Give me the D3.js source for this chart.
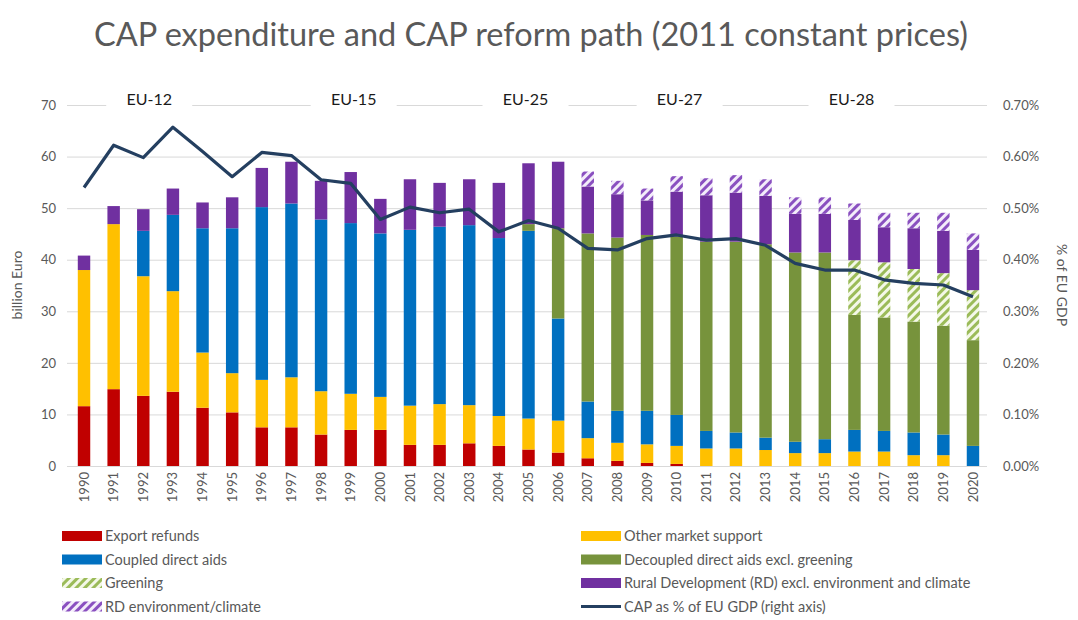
<!DOCTYPE html>
<html>
<head>
<meta charset="utf-8">
<script src="https://cdn.jsdelivr.net/npm/d3@7"></script>
<style>
  body { margin: 0; background: #fff; }
  svg { font-family: Lato, "Open Sans", sans-serif; }
</style>
</head>
<body>
<svg width="1078" height="620"></svg>
<script>
const years = d3.range(1990, 2021).map(String);

// billion euro, 2011 constant prices
const exportRefunds = [11.6, 14.9, 13.6, 14.4, 11.3, 10.4, 7.5, 7.5, 6.1, 7.0, 7.0, 4.1, 4.1, 4.4, 3.9, 3.2, 2.6, 1.5, 1.0, 0.6, 0.4, 0, 0, 0, 0, 0, 0, 0, 0, 0, 0];
const otherMarket = [26.4, 32.0, 23.2, 19.5, 10.7, 7.6, 9.2, 9.7, 8.4, 7.0, 6.4, 7.6, 7.9, 7.4, 5.8, 6.0, 6.2, 3.9, 3.5, 3.6, 3.5, 3.4, 3.4, 3.1, 2.5, 2.5, 2.8, 2.8, 2.1, 2.1, 0];
const coupled = [0, 0, 8.8, 14.8, 24.1, 28.1, 33.5, 33.7, 33.3, 33.1, 31.7, 34.1, 34.4, 34.9, 34.5, 36.4, 19.8, 7.1, 6.2, 6.5, 6.0, 3.4, 3.1, 2.4, 2.2, 2.7, 4.2, 4.0, 4.4, 4.0, 3.9];
const decoupled = [0, 0, 0, 0, 0, 0, 0, 0, 0, 0, 0, 0, 0, 0, 0, 1.3, 17.5, 32.6, 33.6, 34.1, 34.6, 36.7, 37.0, 37.5, 36.7, 36.2, 22.3, 22.0, 21.5, 21.1, 20.5];
const greening = [0, 0, 0, 0, 0, 0, 0, 0, 0, 0, 0, 0, 0, 0, 0, 0, 0, 0, 0, 0, 0, 0, 0, 0, 0, 0, 10.6, 10.7, 10.2, 10.2, 9.7];
const ruralDev = [2.8, 3.5, 4.2, 5.1, 5.0, 6.0, 7.6, 8.1, 7.5, 9.9, 6.7, 9.8, 8.5, 8.9, 10.7, 11.8, 12.9, 9.1, 8.4, 6.7, 8.7, 9.0, 9.5, 9.4, 7.5, 7.5, 7.8, 6.8, 7.9, 8.2, 7.8];
const rdEnv = [0, 0, 0, 0, 0, 0, 0, 0, 0, 0, 0, 0, 0, 0, 0, 0, 0, 2.9, 2.6, 2.3, 3.0, 3.3, 3.4, 3.2, 3.2, 3.2, 3.2, 2.8, 3.0, 3.5, 3.2];

// CAP as % of EU GDP (percent)
const gdpShare = [0.540, 0.622, 0.598, 0.657, 0.610, 0.561, 0.608, 0.602, 0.555, 0.548, 0.478, 0.502, 0.491, 0.498, 0.454, 0.476, 0.461, 0.422, 0.419, 0.441, 0.448, 0.438, 0.441, 0.428, 0.393, 0.380, 0.380, 0.361, 0.354, 0.351, 0.328];

const leftTicks = [0, 10, 20, 30, 40, 50, 60, 70];
const rightTicks = [0, 0.1, 0.2, 0.3, 0.4, 0.5, 0.6, 0.7];

const enlargements = ['EU-12', 'EU-15', 'EU-25', 'EU-27', 'EU-28'];
const enlargementAt = [1992.2, 1999.1, 2004.9, 2010.1, 2015.9];

const seriesNames = ['Export refunds', 'Other market support', 'Coupled direct aids', 'Decoupled direct aids excl. greening',
  'Greening', 'Rural Development (RD) excl. environment and climate', 'RD environment/climate'];

const svg = d3.select('svg');
const W = +svg.attr('width');

// hatch patterns
const defs = svg.append('defs');
function hatch(id, color, bg) {
  const p = defs.append('pattern')
    .attr('id', id)
    .attr('patternUnits', 'userSpaceOnUse')
    .attr('width', 6).attr('height', 6)
    .attr('patternTransform', 'rotate(45)');
  p.append('rect').attr('width', 6).attr('height', 6).attr('fill', bg);
  p.append('rect').attr('width', 3).attr('height', 6).attr('fill', color);
}
hatch('hGreen', '#9bbb59', '#f4f8e8');
hatch('hPurple', '#8a50c0', '#f3ecfa');

const fills = ['#c00000', '#ffc000', '#0070c0', '#77933c', 'url(#hGreen)', '#7030a0', 'url(#hPurple)'];

const table = years.map((y, i) => ({
  year: y,
  s0: exportRefunds[i], s1: otherMarket[i], s2: coupled[i], s3: decoupled[i],
  s4: greening[i], s5: ruralDev[i], s6: rdEnv[i]
}));
const keys = ['s0', 's1', 's2', 's3', 's4', 's5', 's6'];
const stacked = d3.stack().keys(keys)(table);

const x = d3.scaleBand().domain(years).range([69.2, 987.8]).paddingInner(0.58).paddingOuter(0.29);
const y = d3.scaleLinear().domain([0, 70]).range([466, 105]);
const yR = d3.scaleLinear().domain([0, 0.7]).range([466, 105]);   // in percent
const xYear = d3.scaleLinear().domain([1990, 2020]).range([x('1990') + x.bandwidth() / 2, x('2020') + x.bandwidth() / 2]);

// title
svg.append('text')
  .attr('x', W / 2 - 8).attr('y', 46)
  .attr('text-anchor', 'middle')
  .attr('font-size', 32.5)
  .attr('fill', '#595959')
  .text('CAP expenditure and CAP reform path (2011 constant prices)');

// gridlines
svg.append('g')
  .attr('transform', 'translate(67,0)')
  .call(d3.axisLeft(y).tickValues(leftTicks).tickSize(-920).tickFormat(''))
  .call(g => g.select('.domain').remove())
  .call(g => g.selectAll('line').attr('stroke', '#d9d9d9'));

// left axis labels
svg.append('g')
  .attr('transform', 'translate(60,0)')
  .call(d3.axisLeft(y).tickValues(leftTicks).tickSize(0).tickPadding(4))
  .call(g => g.select('.domain').remove())
  .call(g => g.selectAll('text').attr('font-size', 13).attr('fill', '#595959').attr('font-family', 'Lato'));

// right axis labels
svg.append('g')
  .attr('transform', 'translate(1000,0)')
  .call(d3.axisRight(yR).tickValues(rightTicks).tickSize(0).tickPadding(3).tickFormat(d => d.toFixed(2) + '%'))
  .call(g => g.select('.domain').remove())
  .call(g => g.selectAll('text').attr('font-size', 13).attr('fill', '#595959').attr('font-family', 'Lato'));

// axis titles
svg.append('text')
  .attr('transform', 'translate(22,285) rotate(-90)')
  .attr('text-anchor', 'middle')
  .attr('font-size', 14).attr('fill', '#595959')
  .text('billion Euro');
svg.append('text')
  .attr('transform', 'translate(1057,285) rotate(90)')
  .attr('text-anchor', 'middle')
  .attr('font-size', 14).attr('fill', '#595959')
  .text('% of EU GDP');

// bars
svg.append('g').selectAll('g')
  .data(stacked)
  .join('g')
  .attr('fill', (d, i) => fills[i])
  .selectAll('rect')
  .data(d => d)
  .join('rect')
  .attr('x', d => x(d.data.year))
  .attr('width', x.bandwidth())
  .attr('y', d => y(d[1]))
  .attr('height', d => y(d[0]) - y(d[1]));

// x axis labels
svg.append('g')
  .attr('transform', 'translate(0,468)')
  .call(d3.axisBottom(x).tickSize(0).tickPadding(0))
  .call(g => g.select('.domain').remove())
  .call(g => g.selectAll('text')
    .attr('font-size', 13).attr('fill', '#595959').attr('font-family', 'Lato')
    .attr('transform', 'rotate(-90)')
    .attr('text-anchor', 'end')
    .attr('x', -4).attr('y', 0).attr('dy', '0.35em'));

// GDP share line
svg.append('path')
  .datum(gdpShare)
  .attr('fill', 'none')
  .attr('stroke', '#243f60')
  .attr('stroke-width', 3.2)
  .attr('stroke-linejoin', 'round')
  .attr('d', d3.line()
    .x((d, i) => x(years[i]) + x.bandwidth() / 2)
    .y(d => yR(d)));

// enlargement labels on the top gridline
const lab = svg.append('g').selectAll('g')
  .data(enlargements)
  .join('g')
  .attr('transform', (d, i) => `translate(${xYear(enlargementAt[i])},${y(70)})`);
lab.append('rect')
  .attr('x', -43).attr('y', -4).attr('width', 86).attr('height', 8)
  .attr('fill', '#fff');
lab.append('text')
  .attr('text-anchor', 'middle')
  .attr('y', 0)
  .attr('font-size', 16)
  .attr('fill', '#1a1a1a')
  .text(d => d);

// legend
const legend = svg.append('g');
const legendItems = [
  { name: seriesNames[0], fill: fills[0], col: 0, row: 0 },
  { name: seriesNames[1], fill: fills[1], col: 1, row: 0 },
  { name: seriesNames[2], fill: fills[2], col: 0, row: 1 },
  { name: seriesNames[3], fill: fills[3], col: 1, row: 1 },
  { name: seriesNames[4], fill: fills[4], col: 0, row: 2 },
  { name: seriesNames[5], fill: fills[5], col: 1, row: 2 },
  { name: seriesNames[6], fill: fills[6], col: 0, row: 3 },
  { name: 'CAP as % of EU GDP (right axis)', fill: null, col: 1, row: 3 }
];
const li = legend.selectAll('g')
  .data(legendItems)
  .join('g')
  .attr('transform', d => `translate(${d.col ? 581 : 62},${536 + d.row * 23.5})`);
li.filter(d => d.fill)
  .append('rect')
  .attr('x', 0).attr('y', -5).attr('width', 40).attr('height', 10)
  .attr('fill', d => d.fill);
li.filter(d => !d.fill)
  .append('line')
  .attr('x1', 0).attr('x2', 40).attr('y1', 0).attr('y2', 0)
  .attr('stroke', '#243f60').attr('stroke-width', 3);
li.append('text')
  .attr('x', 43).attr('y', 0).attr('dy', '0.35em')
  .attr('font-size', 14.5).attr('fill', '#595959')
  .text(d => d.name);
</script>
</body>
</html>
